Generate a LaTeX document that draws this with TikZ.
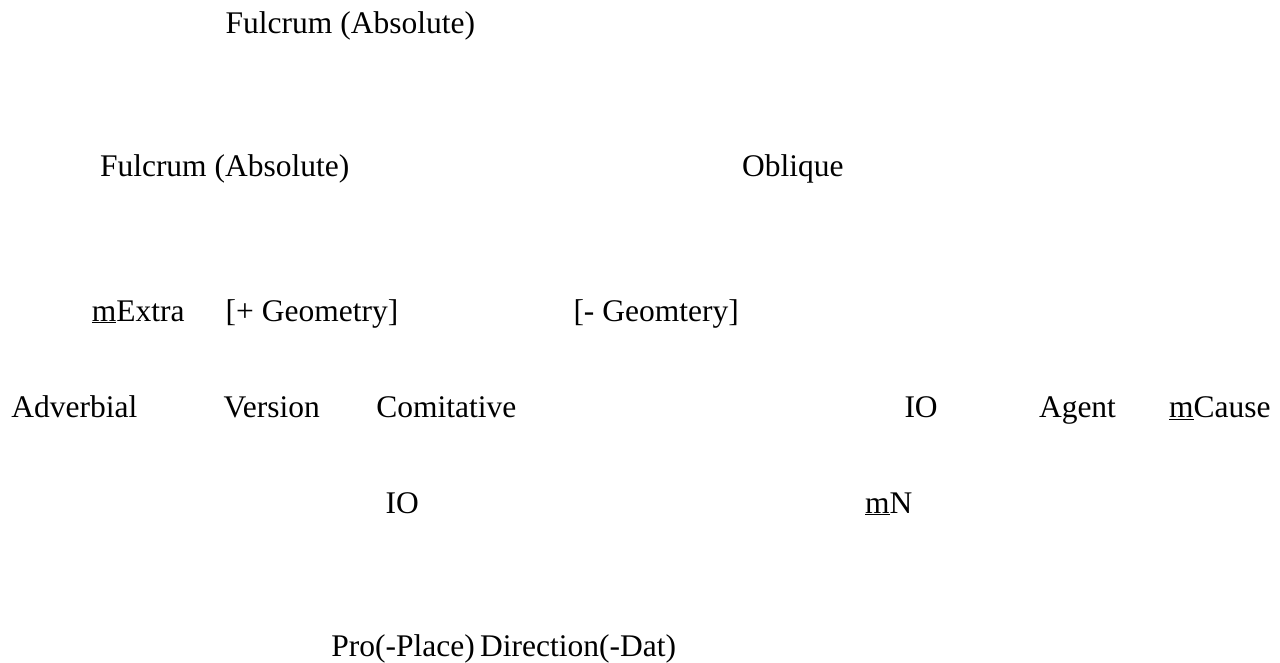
\documentclass[tikz,border=0pt]{standalone}
\usepackage{fontspec}
\setmainfont{Liberation Serif}
\tikzset{
  lbl/.style={anchor=base west, inner sep=0pt, outer sep=0pt,
              font=\fontsize{31.5}{36}\selectfont, text=black}
}
\newcommand{\ulm}{\underline{m}}
\begin{document}
\begin{tikzpicture}[x=1pt, y=-1pt]
  \useasboundingbox (0,0) rectangle (1280,663);
  % top level
  \node[lbl] (fulcA) at (225.7,33.3) {Fulcrum (Absolute)};
  % second level
  \node[lbl] (fulcB) at (100,176.7) {Fulcrum (Absolute)};
  \node[lbl] (obl)   at (742,176.7) {Oblique};
  % third level
  \node[lbl] (mext)  at (91.8,321) {\ulm Extra};
  \node[lbl] (pgeo)  at (225.7,321) {[+ Geometry]};
  \node[lbl] (mgeo)  at (573.5,321) {[- Geomtery]};
  % fourth level
  \node[lbl] (adv)   at (11.4,417.5) {Adverbial};
  \node[lbl] (ver)   at (223.7,417.5) {Version};
  \node[lbl] (com)   at (376.3,417.5) {Comitative};
  \node[lbl] (ioA)   at (904.5,417.5) {IO};
  \node[lbl] (agt)   at (1039,417.5) {Agent};
  \node[lbl] (mcau)  at (1169,417.5) {\ulm Cause};
  % fifth level
  \node[lbl] (ioB)   at (385.7,513) {IO};
  \node[lbl] (mn)    at (865,513) {\ulm N};
  % bottom
  \node[lbl] (pro)   at (331.4,656.5) {Pro(-Place)\,Direction(-Dat)};
\end{tikzpicture}
\end{document}
